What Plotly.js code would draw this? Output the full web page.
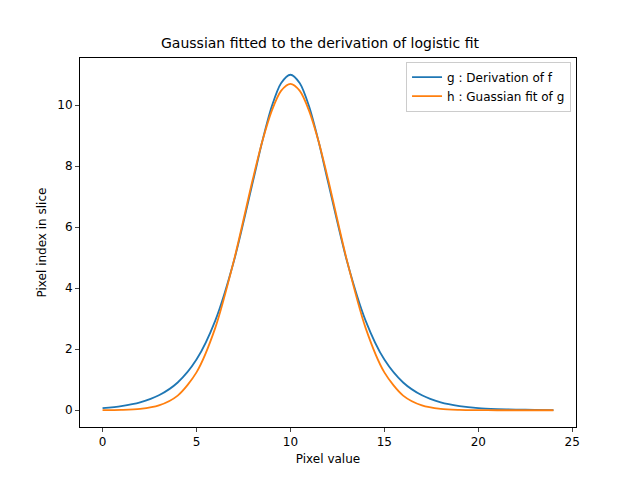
<!DOCTYPE html>
<html>
<head>
<script src="https://cdn.plot.ly/plotly-3.0.1.min.js"></script>
<style>body{margin:0}</style>
</head>
<body>
<div id="chart" style="width:640px;height:480px"></div>
<script>
// values
const xs = [0,1,2,3,4,5,6,7,8,8.5,9,9.5,10,10.5,11,11.5,12,13,14,15,16,17,18,19,20,21,22,23,24]
const gDeriv = [0.07,0.138,0.26,0.49,0.91,1.66,2.94,4.91,7.49,8.81,9.95,10.72,11.0,10.72,9.95,8.81,7.49,4.91,2.94,1.66,0.91,0.49,0.26,0.138,0.07,0.039,0.02,0.011,0.006]
const hGauss = [0.002,0.01,0.043,0.157,0.48,1.24,2.70,4.93,7.58,8.81,9.81,10.47,10.7,10.47,9.81,8.81,7.58,4.93,2.70,1.24,0.48,0.157,0.043,0.01,0.002,0,0,0,0]

const axisStyle = {
  showgrid: false, zeroline: false, showline: true, mirror: true,
  linecolor: 'black', linewidth: 1, ticks: 'outside', ticklen: 4,
  tickfont: {size: 12, color: 'black'}
}

Plotly.newPlot('chart', [
  {x: xs, y: gDeriv, mode: 'lines', line: {color: '#1f77b4', width: 1.8, shape: 'spline', smoothing: 0.8}, name: 'g : Derivation of f'},
  {x: xs, y: hGauss, mode: 'lines', line: {color: '#ff7f0e', width: 1.8, shape: 'spline', smoothing: 0.8}, name: 'h : Guassian fit of g'}
], {
  width: 640, height: 480,
  margin: {l: 80, r: 64, t: 58, b: 53},
  font: {family: 'DejaVu Sans', color: 'black'},
  title: {text: 'Gaussian fitted to the derivation of logistic fit', font: {size: 14}, y: 0.91, yanchor: 'middle'},
  xaxis: Object.assign({range: [-1.2, 25.2], tickvals: [0,5,10,15,20,25], title: {text: 'Pixel value', font: {size: 12}, standoff: 6}}, axisStyle),
  yaxis: Object.assign({range: [-0.55, 11.55], tickvals: [0,2,4,6,8,10], title: {text: 'Pixel index in slice', font: {size: 12}}}, axisStyle),
  showlegend: true,
  legend: {x: 0.99, y: 0.99, xanchor: 'right', yanchor: 'top', bordercolor: '#ccc', borderwidth: 1, font: {size: 12}},
  plot_bgcolor: 'white', paper_bgcolor: 'white'
}, {displayModeBar: false})
</script>
</body>
</html>
